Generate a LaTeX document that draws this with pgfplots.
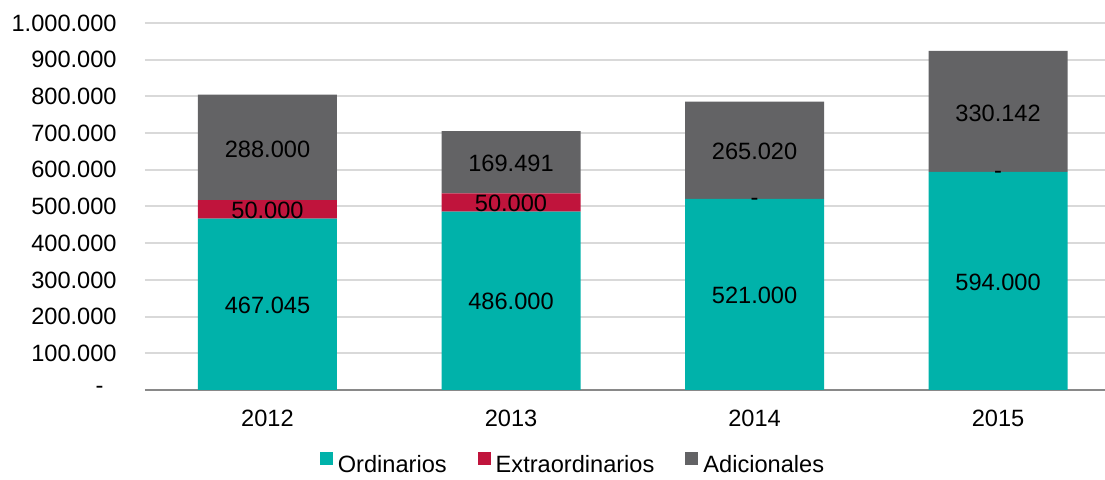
\documentclass[border=0pt]{standalone}
\usepackage{fontspec}
\setmainfont{Liberation Sans}
\usepackage{pgfplots}
\pgfplotsset{compat=1.18}
\definecolor{cteal}{RGB}{0,178,170}
\definecolor{cred}{RGB}{192,20,60}
\definecolor{cgray}{RGB}{99,99,101}
\definecolor{cgrid}{RGB}{217,217,217}
\definecolor{caxis}{RGB}{137,137,137}
\newcommand{\lf}{\fontsize{11.8pt}{14pt}\selectfont}
\begin{document}
\begin{tikzpicture}
\path[use as bounding box] (0,0) rectangle (552.5pt,240pt);
\begin{axis}[
  at={(72.5pt,45pt)}, anchor=south west,
  scale only axis, width=480pt, height=183.5pt,
  xmin=-0.503, xmax=3.439, ymin=0, ymax=1000000,
  scaled y ticks=false,
  ybar stacked, bar width=69.5pt,
  axis x line*=bottom, axis y line*=left,
  y axis line style={draw=none},
  x axis line style={caxis, line width=1pt},
  ymajorgrids, grid style={cgrid, line width=1pt},
  major tick length=0pt, tick style={draw=none},
  ytick={0,100000,200000,300000,400000,500000,600000,700000,800000,900000,1000000},
  yticklabels={-\hphantom{0},100.000,200.000,300.000,400.000,500.000,600.000,700.000,800.000,900.000,1.000.000},
  xtick={0,1,2,3}, xticklabels={2012,2013,2014,2015},
  yticklabel style={anchor=east, inner sep=0pt, xshift=-14pt, font=\lf},
  xticklabel style={anchor=north, inner sep=0pt, yshift=-10pt, font=\lf},
  legend columns=3,
  legend style={draw=none, fill=none, font=\lf, at={(0.4448,-0.2343)}, anchor=south,
    inner sep=0pt, outer sep=0pt,
    nodes={inner sep=0pt},
    /tikz/every odd column/.append style={column sep=2.5pt},
    /tikz/every even column/.append style={column sep=15.5pt}},
  legend image code/.code={\fill[#1,draw=none] (0pt,0.3pt) rectangle (6.5pt,6.8pt);},
]
\addplot[fill=cteal, draw=none] coordinates {(0,467045) (1,486000) (2,521000) (3,594000)};
\addplot[fill=cred, draw=none] coordinates {(0,50000) (1,50000) (2,0) (3,0)};
\addplot[fill=cgray, draw=none] coordinates {(0,288000) (1,169491) (2,265020) (3,330142)};
\legend{Ordinarios,Extraordinarios,Adicionales}
\end{axis}
\begin{axis}[
  at={(72.5pt,45pt)}, anchor=south west,
  scale only axis, width=480pt, height=183.5pt,
  xmin=-0.503, xmax=3.439, ymin=0, ymax=1000000,
  hide axis, clip=false,
]
\addplot[only marks, mark=none, nodes near coords, point meta=explicit symbolic,
  every node near coord/.append style={anchor=center, font=\lf, text=black, inner sep=0pt}]
  table[meta=label] {
x y label
0 231000 467.045
0 490000 50.000
0 656000 288.000
1 241000 486.000
1 509000 50.000
1 617000 169.491
2 257000 521.000
2 513000 -
2 650000 265.020
3 294000 594.000
3 586000 -
3 754000 330.142
};
\end{axis}
\end{tikzpicture}
\end{document}
